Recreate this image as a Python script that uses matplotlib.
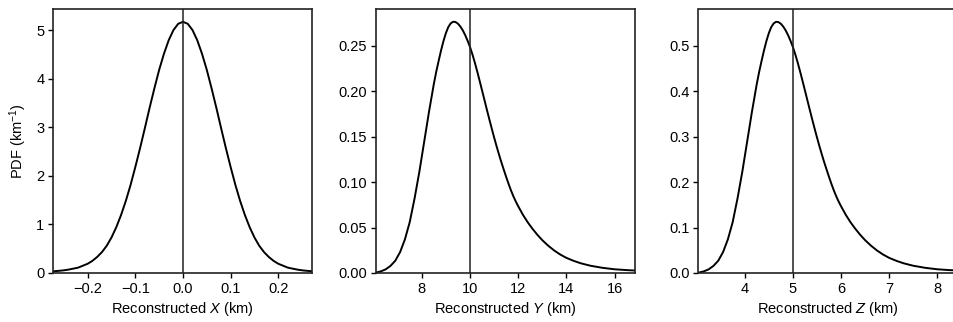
import matplotlib
matplotlib.use("Agg")
import matplotlib.pyplot as plt

plt.rcParams["font.family"] = ["Liberation Sans", "DejaVu Sans"]
plt.rcParams["mathtext.fontset"] = "custom"
plt.rcParams["mathtext.rm"] = "Liberation Sans"
plt.rcParams["mathtext.it"] = "Liberation Sans:italic"

# reconstructed X (km) and PDF (km^-1)
x_km = [-0.272, -0.26, -0.25, -0.24, -0.23, -0.22, -0.21, -0.20, -0.19, -0.18,
        -0.17, -0.16, -0.15, -0.14, -0.13, -0.12, -0.11, -0.10, -0.09, -0.08,
        -0.07, -0.06, -0.05, -0.04, -0.03, -0.02, -0.01, 0.00, 0.01, 0.02,
        0.03, 0.04, 0.05, 0.06, 0.07, 0.08, 0.09, 0.10, 0.11, 0.12,
        0.13, 0.14, 0.15, 0.16, 0.17, 0.18, 0.19, 0.20, 0.21, 0.22,
        0.23, 0.24, 0.25, 0.26, 0.272]
x_pdf = [0.035, 0.045, 0.055, 0.07, 0.09, 0.11, 0.15, 0.19, 0.25, 0.33,
         0.43, 0.56, 0.73, 0.94, 1.19, 1.48, 1.81, 2.18, 2.57, 2.98,
         3.40, 3.80, 4.18, 4.51, 4.79, 5.00, 5.13, 5.17, 5.13, 5.00,
         4.79, 4.51, 4.18, 3.80, 3.40, 2.98, 2.57, 2.18, 1.81, 1.48,
         1.19, 0.94, 0.73, 0.56, 0.43, 0.33, 0.25, 0.19, 0.15, 0.11,
         0.09, 0.07, 0.055, 0.045, 0.035]

# reconstructed Y (km)
y_km = [6.10, 6.30, 6.50, 6.70, 6.90, 7.10, 7.30, 7.50, 7.70, 7.90,
        8.10, 8.30, 8.50, 8.60, 8.70, 8.80, 8.90, 9.00, 9.10, 9.20,
        9.30, 9.40, 9.50, 9.60, 9.70, 9.80, 9.90, 10.00, 10.10, 10.20,
        10.30, 10.40, 10.50, 10.60, 10.70, 10.80, 10.90, 11.00, 11.10, 11.20,
        11.30, 11.40, 11.50, 11.60, 11.70, 11.80, 11.90, 12.00, 12.20, 12.40,
        12.60, 12.80, 13.00, 13.25, 13.50, 13.75, 14.00, 14.30, 14.60, 15.00,
        15.50, 16.00, 16.50, 16.85]
y_pdf = [0.0005, 0.0018, 0.0040, 0.0078, 0.0135, 0.0230, 0.0370, 0.0560, 0.0820, 0.1115,
         0.1445, 0.1775, 0.2080, 0.2215, 0.2335, 0.2450, 0.2553, 0.2640, 0.2707, 0.2748,
         0.2766, 0.2763, 0.2745, 0.2714, 0.2672, 0.2620, 0.2558, 0.2490, 0.2408, 0.2318,
         0.2220, 0.2117, 0.2012, 0.1906, 0.1800, 0.1696, 0.1594, 0.1495, 0.1400, 0.1309,
         0.1222, 0.1140, 0.1060, 0.0983, 0.0911, 0.0846, 0.0788, 0.0736, 0.0640, 0.0557,
         0.0485, 0.0420, 0.0362, 0.0300, 0.0247, 0.0203, 0.0167, 0.0134, 0.0107, 0.0080,
         0.0057, 0.0041, 0.0032, 0.0027]

# reconstructed Z (km)
z_km = [3.05, 3.15, 3.25, 3.35, 3.45, 3.55, 3.65, 3.75, 3.85, 3.95,
        4.05, 4.15, 4.25, 4.30, 4.35, 4.40, 4.45, 4.50, 4.55, 4.60,
        4.65, 4.70, 4.75, 4.80, 4.85, 4.90, 4.95, 5.00, 5.05, 5.10,
        5.15, 5.20, 5.25, 5.30, 5.35, 5.40, 5.45, 5.50, 5.55, 5.60,
        5.65, 5.70, 5.75, 5.80, 5.85, 5.90, 5.95, 6.00, 6.10, 6.20,
        6.30, 6.40, 6.50, 6.625, 6.75, 6.875, 7.00, 7.15, 7.30, 7.50,
        7.75, 8.00, 8.25, 8.45]
z_pdf = [0.001, 0.0036, 0.008, 0.0156, 0.027, 0.046, 0.074, 0.112, 0.164, 0.223,
         0.289, 0.355, 0.416, 0.443, 0.467, 0.490, 0.5106, 0.528, 0.5414, 0.5496,
         0.5532, 0.5526, 0.549, 0.5428, 0.5344, 0.524, 0.5116, 0.498, 0.4816, 0.4636,
         0.444, 0.4234, 0.4024, 0.3812, 0.360, 0.3392, 0.3188, 0.299, 0.280, 0.2618,
         0.2444, 0.228, 0.212, 0.1966, 0.1822, 0.1692, 0.1576, 0.1472, 0.128, 0.1114,
         0.097, 0.084, 0.0724, 0.060, 0.0494, 0.0406, 0.0334, 0.0268, 0.0214, 0.016,
         0.0114, 0.0082, 0.0064, 0.0054]

true_vals = [0.0, 10.0, 5.0]

W, H = 954, 322
fig = plt.figure(figsize=(W / 100, H / 100), dpi=100)

panels = [
    (x_km, x_pdf, (53.3, 311.7), (-0.272, 0.270), (0, 5.43), [-0.2, -0.1, 0.0, 0.1, 0.2],
     [0, 1, 2, 3, 4, 5], "Reconstructed $X$ (km)"),
    (y_km, y_pdf, (376, 635), (6.10, 16.85), (0, 0.2904), [8, 10, 12, 14, 16],
     [0, 0.05, 0.10, 0.15, 0.20, 0.25], "Reconstructed $Y$ (km)"),
    (z_km, z_pdf, (698.5, 957.5), (3.04, 8.42), (0, 0.581), [4, 5, 6, 7, 8],
     [0, 0.1, 0.2, 0.3, 0.4, 0.5], "Reconstructed $Z$ (km)"),
]

FS = 10.5
top, bottom = 9.2, 273.0
for i, (xs, ys, (l, r), xl, yl, xt, yt, lab) in enumerate(panels):
    ax = fig.add_axes([l / W, (H - bottom) / H, (r - l) / W, (bottom - top) / H])
    ax.plot(xs, ys, color="black", lw=1.4, solid_joinstyle="round")
    ax.axvline(true_vals[i], color="#222222", lw=1.1)
    ax.set_xlim(*xl)
    ax.set_ylim(*yl)
    ax.set_xticks(xt)
    ax.set_yticks(yt)
    if i == 1:
        ax.set_yticklabels([f"{v:.2f}" for v in yt])
    elif i == 2:
        ax.set_yticklabels([f"{v:.1f}" for v in yt])
    ax.tick_params(direction="out", length=3.5, width=1.0, labelsize=FS, pad=3, color="black")
    for s in ax.spines.values():
        s.set_linewidth(1.2)
        s.set_color("#222222")
    ax.set_xlabel(lab, fontsize=FS, labelpad=3)
    if i == 0:
        ax.set_ylabel("PDF (km$^{-1}$)", fontsize=FS, labelpad=5)

fig.savefig("out.png", dpi=100)
